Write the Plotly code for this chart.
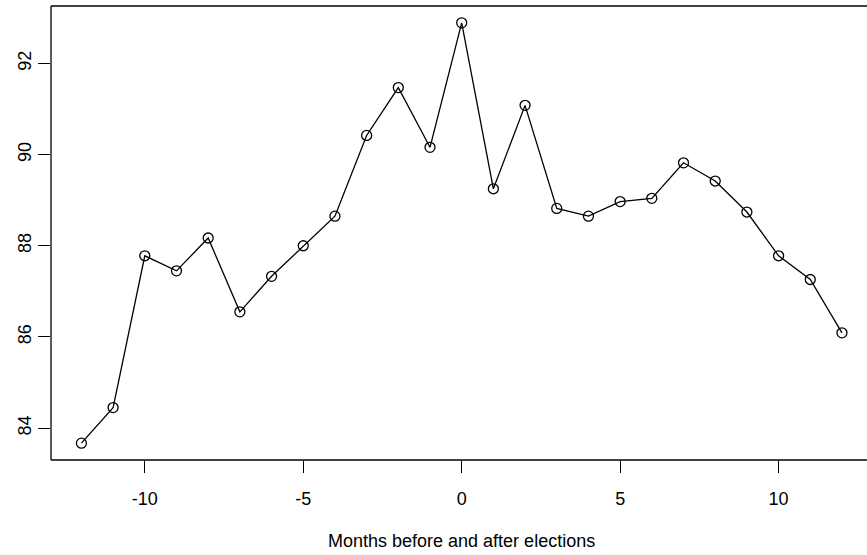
import plotly.graph_objects as go

months = list(range(-12, 13))
values = [83.67, 84.45, 87.78, 87.45, 88.17, 86.55, 87.33, 88.00, 88.65, 90.42,
          91.47, 90.16, 92.89, 89.25, 91.08, 88.82, 88.65, 88.97, 89.04, 89.82,
          89.42, 88.74, 87.78, 87.26, 86.09]
x_ticks = [-10, -5, 0, 5, 10]
x_tick_labels = ["-10", "-5", "0", "5", "10"]
y_ticks = [84, 86, 88, 90, 92]
y_tick_labels = ["84", "86", "88", "90", "92"]
x_title = "Months before and after elections"

FONT = "Liberation Sans, Arial, Helvetica, sans-serif"

fig = go.Figure()
fig.add_trace(go.Scatter(
    x=months, y=values, mode="lines+markers",
    line=dict(color="black", width=1.3),
    marker=dict(symbol="circle-open", size=10, color="black",
                line=dict(color="black", width=1.3)),
    showlegend=False, hoverinfo="x+y",
))

# box (left, bottom, top; right edge lies beyond the image)
for x0, y0, x1, y1 in [(0, 0, 0, 1), (0, 0, 1, 0), (0, 1, 1, 1)]:
    fig.add_shape(type="line", xref="paper", yref="paper",
                  x0=x0, y0=y0, x1=x1, y1=y1,
                  line=dict(color="black", width=1.3))

fig.add_annotation(text=x_title, xref="paper", yref="paper",
                   x=0.5036, y=-0.179, xanchor="center", yanchor="middle",
                   showarrow=False, font=dict(family=FONT, size=18, color="black"))

fig.update_layout(
    width=867, height=555,
    margin=dict(l=51, r=0, t=6, b=95, pad=0),
    plot_bgcolor="white", paper_bgcolor="white",
    font=dict(family=FONT, size=18, color="black"),
    xaxis=dict(range=[-12.96, 12.79], tickvals=x_ticks, ticktext=x_tick_labels,
               ticks="outside", ticklen=12, tickwidth=1.3, tickcolor="black",
               ticklabelstandoff=10,
               showgrid=False, zeroline=False, showline=False,
               tickfont=dict(family=FONT, size=18, color="black")),
    yaxis=dict(range=[83.30, 93.26], tickvals=y_ticks, ticktext=y_tick_labels,
               ticks="outside", ticklen=12, tickwidth=1.3, tickcolor="black",
               tickangle=-90,
               showgrid=False, zeroline=False, showline=False,
               tickfont=dict(family=FONT, size=18, color="black")),
)

fig.write_html("out.html")
